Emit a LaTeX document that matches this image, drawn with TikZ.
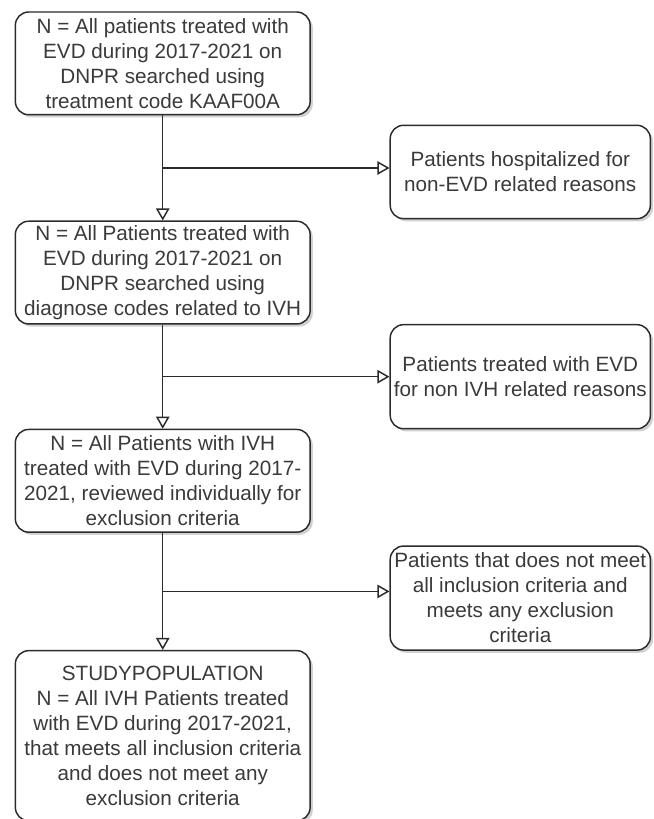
\documentclass[tikz,border=0pt]{standalone}
\usepackage{fontspec}
\setmainfont{Liberation Sans}
\usepackage{xcolor}
\usepackage{tikz}
\usetikzlibrary{arrows.meta,positioning,calc,shadows}
\definecolor{edge}{HTML}{2B2B2B}
\definecolor{ink}{HTML}{3A3A3A}
\newcommand{\boxfont}{\fontsize{15.5}{18.75}\selectfont}

\begin{document}
\begin{tikzpicture}[
  box/.style={draw=edge,line width=1.1pt,rounded corners=10pt,fill=white,align=center,text=ink,
    minimum width=221pt,minimum height=77pt,inner xsep=2pt,inner ysep=1pt,font=\boxfont,
    drop shadow={shadow xshift=2pt,shadow yshift=-2pt,opacity=0.18,fill=black}},
  side/.style={box,minimum width=195pt},
  arr/.style={-{Triangle[open,length=9pt,width=10pt]},line width=1.1pt,draw=edge}
]
\useasboundingbox (0,0) rectangle (490pt,-614pt);
\node[box] (all) at (122pt,-47.5pt) {N = All patients treated with\\EVD during 2017-2021 on\\DNPR searched using\\treatment code KAAF00A};
\node[box,below=78.75pt of all] (ivhdiag) {N = All Patients treated with\\EVD during 2017-2021 on\\DNPR searched using\\diagnose codes related to IVH};
\node[box,below=78pt of ivhdiag] (review) {N = All Patients with IVH\\treated with EVD during 2017-\\2021, reviewed individually for\\exclusion criteria};
\node[box,below=87.75pt of review,minimum height=127.5pt] (study) {STUDYPOPULATION\\N = All IVH Patients treated\\with EVD during 2017-2021,\\that meets all inclusion criteria\\and does not meet any\\exclusion criteria};
% branch points halfway between the boxes
\coordinate (j1) at ($(all.south)!0.5!(ivhdiag.north)$);
\coordinate (j2) at ($(ivhdiag.south)!0.5!(review.north)$);
\coordinate (j3) at ($(review.south)!0.5!(study.north)$);
\node[side,right=170pt of j1,yshift=-3pt,minimum height=70pt] (hosp) {Patients hospitalized for\\non-EVD related reasons};
\node[side,right=170pt of j2,minimum height=78pt] (nonivh) {Patients treated with EVD\\for non IVH related reasons};
\node[side,right=170pt of j3,yshift=-5pt,minimum height=78pt] (excl) {Patients that does not meet\\all inclusion criteria and\\meets any exclusion\\criteria};
\draw[arr] (all)--(ivhdiag);
\draw[arr] (ivhdiag)--(review);
\draw[arr] (review)--(study);
\draw[arr] (j1)--(j1 -| hosp.west);
\draw[arr] (j2)--(j2 -| nonivh.west);
\draw[arr] (j3)--(j3 -| excl.west);
\end{tikzpicture}
\end{document}
